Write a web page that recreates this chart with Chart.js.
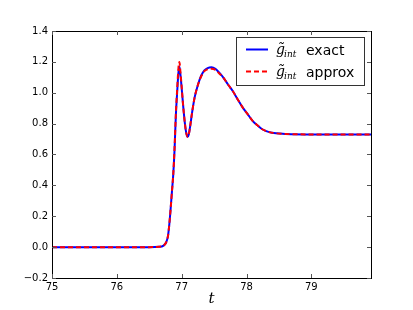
<!DOCTYPE html>
<html>
<head>
<meta charset="utf-8">
<script src="https://cdn.jsdelivr.net/npm/chart.js@4"></script>
<style>
  html, body { margin: 0; padding: 0; background: #fff; }
  #chart { display: block; }
</style>
</head>
<body>
<canvas id="chart" width="413" height="310"></canvas>
<script>
// time axis values
const tVals = [75.0, 76.0, 76.5, 76.65, 76.72, 76.76, 76.79, 76.81, 76.83, 76.85, 76.87, 76.89, 76.91, 76.93, 76.95, 76.965,
  76.98, 77.0, 77.02, 77.05, 77.07, 77.09, 77.11, 77.13, 77.16, 77.2, 77.25, 77.3, 77.35, 77.4, 77.46, 77.52,
  77.58, 77.64, 77.72, 77.79, 77.86, 77.94, 78.02, 78.1, 78.18, 78.25, 78.35, 78.46, 78.6, 79.0, 79.5, 79.92];

// g_int exact
const exactVals = [0, 0, 0, 0.002, 0.01, 0.03, 0.075, 0.15, 0.25, 0.36, 0.47, 0.63, 0.85, 1.0, 1.13, 1.17,
  1.12, 1.03, 0.93, 0.8, 0.74, 0.715, 0.73, 0.78, 0.87, 0.97, 1.05, 1.11, 1.145, 1.16, 1.165, 1.155,
  1.13, 1.1, 1.05, 1.01, 0.96, 0.905, 0.86, 0.815, 0.785, 0.762, 0.745, 0.737, 0.733, 0.73, 0.73, 0.73];

// g_int approx
const approxVals = [0, 0, 0, 0.002, 0.01, 0.03, 0.075, 0.15, 0.25, 0.36, 0.47, 0.64, 0.86, 1.02, 1.16, 1.2,
  1.14, 1.04, 0.93, 0.8, 0.74, 0.715, 0.73, 0.78, 0.87, 0.97, 1.05, 1.105, 1.14, 1.152, 1.155, 1.148,
  1.125, 1.1, 1.05, 1.01, 0.96, 0.905, 0.86, 0.815, 0.785, 0.762, 0.745, 0.737, 0.733, 0.73, 0.73, 0.73];

const xTicks = [75, 76, 77, 78, 79];
const yTicks = [-0.2, 0.0, 0.2, 0.4, 0.6, 0.8, 1.0, 1.2, 1.4];
const legendLabels = ['exact', 'approx'];

function toPoints(vals) {
  return tVals.map((t, i) => ({ x: t, y: vals[i] }));
}

// matplotlib-like frame, inward ticks and the legend box
const framePlugin = {
  id: 'frame',
  afterDraw(chart) {
    const ctx = chart.ctx;
    const a = chart.chartArea;
    const xs = chart.scales.x, ys = chart.scales.y;
    ctx.save();
    ctx.strokeStyle = '#000';
    ctx.lineWidth = 1;
    ctx.strokeRect(Math.round(a.left) + 0.5, Math.round(a.top) + 0.5,
      Math.round(a.right - a.left), Math.round(a.bottom - a.top));

    ctx.strokeStyle = '#555';
    ctx.beginPath();
    xTicks.forEach(v => {
      const px = Math.round(xs.getPixelForValue(v)) + 0.5;
      ctx.moveTo(px, a.bottom); ctx.lineTo(px, a.bottom - 4);
      ctx.moveTo(px, a.top); ctx.lineTo(px, a.top + 4);
    });
    yTicks.forEach(v => {
      const py = Math.round(ys.getPixelForValue(v)) + 0.5;
      ctx.moveTo(a.left, py); ctx.lineTo(a.left + 4, py);
      ctx.moveTo(a.right, py); ctx.lineTo(a.right - 4, py);
    });
    ctx.stroke();

    // legend
    const bx = 236.5, by = 37.5, bw = 128, bh = 48;
    ctx.fillStyle = '#fff';
    ctx.fillRect(bx, by, bw, bh);
    ctx.strokeStyle = '#333';
    ctx.strokeRect(bx, by, bw, bh);

    const rows = [
      { y: 49.5, color: '#0000ff', dash: [] },
      { y: 71.5, color: '#ff0000', dash: [5, 3] }
    ];
    rows.forEach((r, i) => {
      ctx.strokeStyle = r.color;
      ctx.lineWidth = 2;
      ctx.setLineDash(r.dash);
      ctx.beginPath();
      ctx.moveTo(246, r.y); ctx.lineTo(268, r.y);
      ctx.stroke();
      ctx.setLineDash([]);

      ctx.fillStyle = '#000';
      ctx.textBaseline = 'alphabetic';
      ctx.font = 'italic 14px "DejaVu Serif"';
      ctx.fillText('g\u0303', 276, r.y + 4);
      ctx.font = 'italic 9px "DejaVu Serif"';
      ctx.fillText('int', 284, r.y + 7);
      ctx.font = '14px "DejaVu Sans"';
      ctx.fillText(legendLabels[i], 306, r.y + 5);
    });
    ctx.restore();
  }
};

new Chart(document.getElementById('chart'), {
  type: 'line',
  data: {
    datasets: [
      {
        label: 'exact',
        data: toPoints(exactVals),
        borderColor: '#0000ff',
        borderWidth: 2,
        pointRadius: 0,
        cubicInterpolationMode: 'monotone',
        order: 1
      },
      {
        label: 'approx',
        data: toPoints(approxVals),
        borderColor: '#ff0000',
        borderWidth: 2,
        borderDash: [5, 3],
        pointRadius: 0,
        cubicInterpolationMode: 'monotone',
        order: 0
      }
    ]
  },
  options: {
    responsive: false,
    animation: false,
    devicePixelRatio: 1,
    layout: { padding: { top: 31, right: 42, left: 0, bottom: 0 } },
    plugins: {
      legend: { display: false },
      tooltip: { enabled: false }
    },
    scales: {
      x: {
        type: 'linear',
        min: 75,
        max: 79.92,
        grid: { display: false, drawTicks: false },
        border: { display: false },
        afterBuildTicks: s => { s.ticks = xTicks.map(v => ({ value: v })); },
        afterFit: s => { s.height = 32; },
        ticks: {
          color: '#000',
          padding: 3,
          maxRotation: 0,
          font: { family: 'DejaVu Sans', size: 10 },
          callback: v => String(v)
        },
        title: {
          display: true,
          text: 't',
          color: '#000',
          padding: { top: 0, bottom: 2 },
          font: { family: 'DejaVu Serif', style: 'italic', size: 15 }
        }
      },
      y: {
        min: -0.2,
        max: 1.4,
        grid: { display: false, drawTicks: false },
        border: { display: false },
        afterBuildTicks: s => { s.ticks = yTicks.map(v => ({ value: v })); },
        afterFit: s => { s.width = 52; },
        ticks: {
          color: '#000',
          padding: 4,
          font: { family: 'DejaVu Sans', size: 10 },
          callback: v => v.toFixed(1).replace('-', '\u2212')
        }
      }
    }
  },
  plugins: [framePlugin]
});
</script>
</body>
</html>
